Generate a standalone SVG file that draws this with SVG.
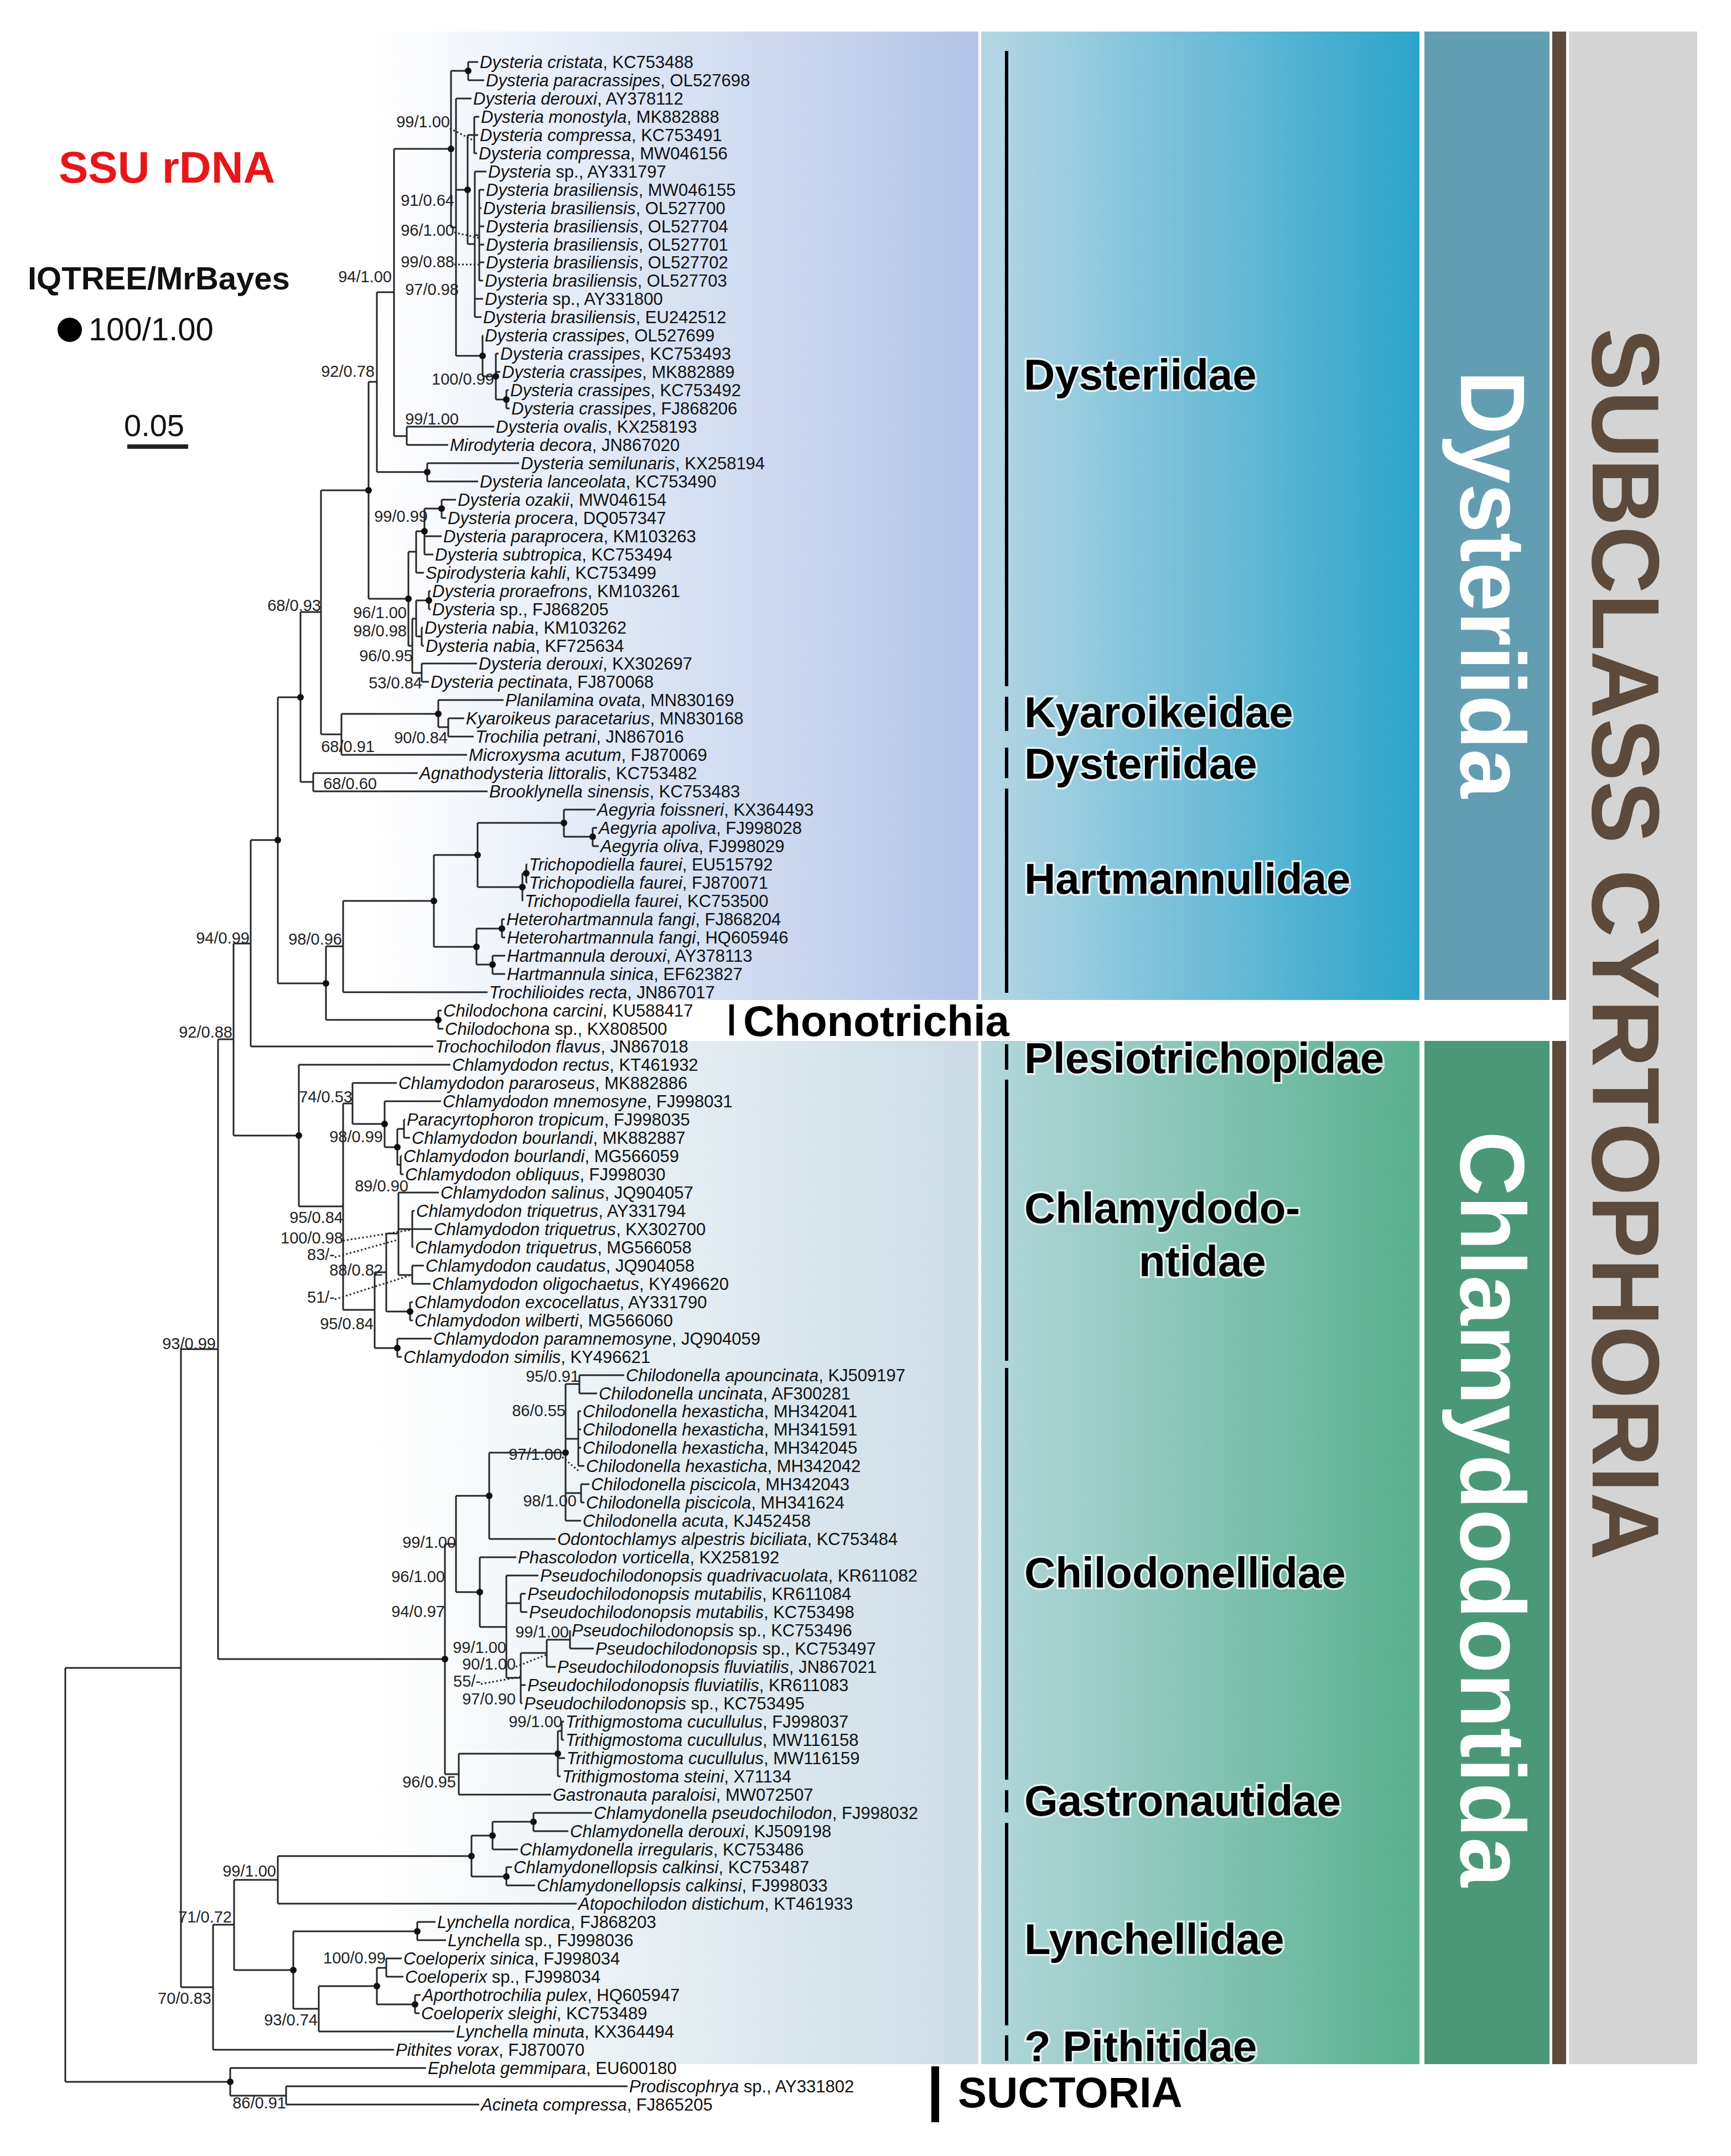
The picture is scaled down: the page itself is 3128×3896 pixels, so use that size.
<svg xmlns="http://www.w3.org/2000/svg" width="3128" height="3896" viewBox="0 0 3128 3896">
<defs>
<linearGradient id="gA" x1="0" x2="1" y1="0" y2="0"><stop offset="0" stop-color="#ffffff"/><stop offset="1" stop-color="#b2c5e7"/></linearGradient>
<linearGradient id="gB" x1="0" x2="1" y1="0" y2="0"><stop offset="0" stop-color="#ffffff"/><stop offset="1" stop-color="#cbdce6"/></linearGradient>
<linearGradient id="gC" x1="0" x2="1" y1="0" y2="0"><stop offset="0" stop-color="#b6d7e5"/><stop offset="1" stop-color="#2ba4ca"/></linearGradient>
<linearGradient id="gD" x1="0" x2="1" y1="0" y2="0"><stop offset="0" stop-color="#b4d8dc"/><stop offset="1" stop-color="#58b08e"/></linearGradient>
<style>
.t{font-family:"Liberation Sans",Arial,sans-serif;font-size:31px;fill:#111}
.i{font-style:italic}
.s{font-family:"Liberation Sans",Arial,sans-serif;font-size:29px;fill:#222;text-anchor:end}
.f{font-family:"Liberation Sans",Arial,sans-serif;font-size:78px;font-weight:bold;fill:#000;stroke:#ffffff;stroke-width:7;stroke-opacity:0.75;paint-order:stroke}
.v{font-family:"Liberation Sans",Arial,sans-serif;font-weight:bold;text-anchor:middle}
.tree path{fill:none;stroke:#262626;stroke-width:3}
.dot{fill:#111}
.bar{fill:#000}
.dl{fill:none;stroke:#333;stroke-width:2.5;stroke-dasharray:3 4}
</style>
</defs>
<g id="background">
<rect x="677" y="57" width="1091" height="1750" fill="url(#gA)"/>
<rect x="677" y="1881" width="1091" height="1849" fill="url(#gB)"/>
<rect x="1773" y="57" width="792" height="1750" fill="url(#gC)"/>
<rect x="1773" y="1881" width="792" height="1849" fill="url(#gD)"/>
<rect x="2574" y="57" width="226" height="1750" fill="#639db2"/>
<rect x="2574" y="1881" width="226" height="1849" fill="#4a9878"/>
<rect x="2805" y="57" width="25" height="1750" fill="#5c4a3c"/>
<rect x="2805" y="1881" width="25" height="1849" fill="#5c4a3c"/>
<rect x="2835" y="57" width="232" height="3673" fill="#d4d4d4"/>
</g>
<g id="legend">
<text x="106" y="330" font-family="Liberation Sans,Arial,sans-serif" font-size="80" font-weight="bold" fill="#e5171b">SSU rDNA</text>
<text x="50" y="523" font-family="Liberation Sans,Arial,sans-serif" font-size="58" font-weight="bold" fill="#111">IQTREE/MrBayes</text>
<circle cx="126" cy="596" r="22" fill="#000"/>
<text x="160" y="615" font-family="Liberation Sans,Arial,sans-serif" font-size="58" fill="#111">100/1.00</text>
<text x="224" y="788" font-family="Liberation Sans,Arial,sans-serif" font-size="56" fill="#111">0.05</text>
<rect x="230" y="803" width="110" height="8" fill="#222"/>
</g>
<g id="groups">
<rect class="bar" x="1816" y="92" width="6" height="1148"/>
<rect class="bar" x="1816" y="1259" width="6" height="62"/>
<rect class="bar" x="1816" y="1351" width="6" height="55"/>
<rect class="bar" x="1816" y="1425" width="6" height="369"/>
<rect class="bar" x="1816" y="1887" width="6" height="46"/>
<rect class="bar" x="1816" y="1951" width="6" height="508"/>
<rect class="bar" x="1816" y="2472" width="6" height="744"/>
<rect class="bar" x="1816" y="3235" width="6" height="40"/>
<rect class="bar" x="1816" y="3294" width="6" height="366"/>
<rect class="bar" x="1816" y="3678" width="6" height="46"/>
<text class="f" x="1850" y="704">Dysteriidae</text>
<text class="f" x="1851" y="1314">Kyaroikeidae</text>
<text class="f" x="1851" y="1407">Dysteriidae</text>
<text class="f" x="1851" y="1615">Hartmannulidae</text>
<text class="f" x="1851" y="1939">Plesiotrichopidae</text>
<text class="f" x="1851" y="2210">Chlamydodo-</text>
<text class="f" x="2058" y="2306">ntidae</text>
<text class="f" x="1851" y="2869">Chilodonellidae</text>
<text class="f" x="1851" y="3281">Gastronautidae</text>
<text class="f" x="1851" y="3531">Lynchellidae</text>
<text class="f" x="1851" y="3725">? Pithitidae</text>
<rect class="bar" x="1318" y="1815" width="8" height="56"/>
<text class="f" x="1343" y="1872" stroke-width="0" font-size="80">Chonotrichia</text>
<rect class="bar" x="1683" y="3734" width="14" height="101"/>
<text class="f" x="1731" y="3808" stroke-width="0">SUCTORIA</text>
<text class="v" transform="translate(2640 1056) rotate(90)" font-size="166" fill="#ffffff" textLength="773" lengthAdjust="spacingAndGlyphs">Dysteriida</text>
<text class="v" transform="translate(2640 2727) rotate(90)" font-size="166" fill="#ffffff" textLength="1366" lengthAdjust="spacingAndGlyphs">Chlamydodontida</text>
<text class="v" transform="translate(2878 1706) rotate(90)" font-size="172" fill="#5c4a3c" textLength="2226" lengthAdjust="spacingAndGlyphs">SUBCLASS CYRTOPHORIA</text>
</g>
<g id="connectors" class="tree">
<path d="M846 112V145M846 112H864M846 145H875"/>
<path d="M857 211V277M857 211H866M857 244H864M857 277H862"/>
<path d="M866 343V507M866 343H875M866 376H870M866 409H875M866 442H875M866 474H875M866 507H873"/>
<path d="M858 310V573M858 310H879M858 425H866M858 540H873M858 573H870"/>
<path d="M845 244V441M845 244H857M845 441H858"/>
<path d="M915 705V738M915 705H919M915 738H921"/>
<path d="M896 639V722M896 639H901M896 672H904M896 722H915"/>
<path d="M872 606V680M872 606H873M872 680H896"/>
<path d="M824 178V643M824 178H852M824 343H845M824 643H872"/>
<path d="M815 128V411M815 128H846M815 411H824"/>
<path d="M735 771V804M735 771H893M735 804H810"/>
<path d="M712 269V788M712 269H815M712 788H735"/>
<path d="M772 837V870M772 837H938M772 870H864"/>
<path d="M681 528V853M681 528H712M681 853H772"/>
<path d="M798 903V936M798 903H824M798 936H806"/>
<path d="M767 919V1002M767 919H798M767 969H798M767 1002H783"/>
<path d="M752 960V1035M752 960H767M752 1035H766"/>
<path d="M775 1068V1101M775 1068H778M775 1101H778"/>
<path d="M762 1134V1167M762 1134H764M762 1167H766"/>
<path d="M752 1085V1150M752 1085H775M752 1150H762"/>
<path d="M762 1199V1232M762 1199H862M762 1232H775"/>
<path d="M745 1118V1216M745 1118H752M745 1216H762"/>
<path d="M738 997V1167M738 997H752M738 1167H745"/>
<path d="M666 690V1082M666 690H681M666 1082H738"/>
<path d="M810 1298V1331M810 1298H839M810 1331H856"/>
<path d="M792 1265V1314M792 1265H910M792 1314H810"/>
<path d="M617 1290V1364M617 1290H792M617 1364H844"/>
<path d="M580 886V1327M580 886H666M580 1327H617"/>
<path d="M566 1397V1430M566 1397H755M566 1430H881"/>
<path d="M543 1106V1413M543 1106H580M543 1413H566"/>
<path d="M1071 1496V1529M1071 1496H1079M1071 1529H1082"/>
<path d="M1019 1463V1512M1019 1463H1076M1019 1512H1071"/>
<path d="M951 1562V1595M951 1562H953M951 1595H953"/>
<path d="M944 1578V1628M944 1578H951M944 1628H945"/>
<path d="M863 1487V1603M863 1487H1019M863 1603H944"/>
<path d="M907 1661V1694M907 1661H912M907 1694H913"/>
<path d="M890 1727V1760M890 1727H913M890 1760H913"/>
<path d="M861 1678V1743M861 1678H907M861 1743H890"/>
<path d="M784 1545V1711M784 1545H863M784 1711H861"/>
<path d="M620 1628V1793M620 1628H784M620 1793H881"/>
<path d="M792 1826V1859M792 1826H798M792 1859H801"/>
<path d="M589 1710V1843M589 1710H620M589 1843H792"/>
<path d="M502 1260V1777M502 1260H543M502 1777H589"/>
<path d="M453 1518V1891M453 1518H502M453 1891H783"/>
<path d="M730 2023V2056M730 2023H732M730 2056H741"/>
<path d="M724 2089V2122M724 2089H726M724 2122H729"/>
<path d="M718 2040V2105M718 2040H730M718 2105H724"/>
<path d="M695 1990V2073M695 1990H797M695 2073H718"/>
<path d="M637 1957V2031M637 1957H717M637 2031H695"/>
<path d="M745 2188V2254M745 2188H749M745 2221H781M745 2254H747"/>
<path d="M745 2287V2320M745 2287H766M745 2320H778"/>
<path d="M720 2155V2304M720 2155H793M720 2221H745M720 2304H745"/>
<path d="M741 2353V2386M741 2353H746M741 2386H746"/>
<path d="M698 2229V2370M698 2229H720M698 2370H741"/>
<path d="M718 2419V2452M718 2419H780M718 2452H726"/>
<path d="M677 2299V2436M677 2299H698M677 2436H718"/>
<path d="M620 1994V2367M620 1994H637M620 2367H677"/>
<path d="M540 1924V2180M540 1924H814M540 2180H620"/>
<path d="M422 1705V2052M422 1705H453M422 2052H540"/>
<path d="M1047 2485V2518M1047 2485H1128M1047 2518H1079"/>
<path d="M1045 2550V2649M1045 2550H1050M1045 2583H1050M1045 2616H1050M1045 2649H1056"/>
<path d="M1050 2682V2715M1050 2682H1065M1050 2715H1056"/>
<path d="M1022 2501V2748M1022 2501H1047M1022 2600H1045M1022 2698H1050M1022 2748H1050"/>
<path d="M884 2625V2781M884 2625H1022M884 2781H1004"/>
<path d="M941 2880V2913M941 2880H950M941 2913H953"/>
<path d="M1030 2946V2979M1030 2979H1073"/>
<path d="M988 2963V3012M988 2963H1030M988 3012H1004"/>
<path d="M941 2987V3078M941 2987H988M941 3045H950M941 3078H944"/>
<path d="M915 2847V3032M915 2847H973M915 2897H941M915 3032H941"/>
<path d="M867 2814V2940M867 2814H933M867 2940H915"/>
<path d="M824 2703V2877M824 2703H884M824 2877H867"/>
<path d="M1015 3111V3144M1015 3111H1019M1015 3144H1019"/>
<path d="M1008 3128V3210M1008 3128H1015M1008 3177H1021M1008 3210H1013"/>
<path d="M829 3169V3243M829 3169H1008M829 3243H996"/>
<path d="M804 2790V3206M804 2790H824M804 3206H829"/>
<path d="M394 1878V2998M394 1878H422M394 2998H804"/>
<path d="M964 3276V3309M964 3276H1070M964 3309H1027"/>
<path d="M890 3292V3342M890 3292H964M890 3342H936"/>
<path d="M915 3374V3407M915 3374H925M915 3407H967"/>
<path d="M852 3317V3391M852 3317H890M852 3391H915"/>
<path d="M502 3354V3440M502 3354H852M502 3440H1042"/>
<path d="M754 3473V3506M754 3473H787M754 3506H806"/>
<path d="M698 3539V3572M698 3539H726M698 3572H729"/>
<path d="M750 3605V3638M750 3605H760M750 3638H758"/>
<path d="M681 3556V3622M681 3556H698M681 3622H750"/>
<path d="M576 3589V3671M576 3589H681M576 3671H821"/>
<path d="M530 3490V3630M530 3490H754M530 3630H576"/>
<path d="M423 3397V3560M423 3397H502M423 3560H530"/>
<path d="M385 3478V3704M385 3478H423M385 3704H712"/>
<path d="M327 2438V3591M327 2438H394M327 3591H385"/>
<path d="M517 3770V3803M517 3770H1134M517 3803H866"/>
<path d="M416 3737V3787M416 3737H770M416 3787H517"/>
<path d="M118 3014V3762M118 3014H327M118 3762H416"/>
<path class="dl" d="M813 232L858 255M821 420L866 430M821 478L866 478M620 2242L745 2222M605 2272L720 2240M605 2348L740 2305M932 3012L988 2990M869 3043L941 3030M1016 2633L1048 2660"/>
</g>
<g id="dots">
<circle class="dot" cx="846" cy="128" r="6"/><circle class="dot" cx="815" cy="269" r="6"/><circle class="dot" cx="845" cy="343" r="6"/><circle class="dot" cx="872" cy="643" r="6"/><circle class="dot" cx="896" cy="680" r="6"/><circle class="dot" cx="915" cy="722" r="6"/><circle class="dot" cx="772" cy="853" r="6"/><circle class="dot" cx="666" cy="886" r="6"/><circle class="dot" cx="738" cy="1082" r="6"/><circle class="dot" cx="767" cy="960" r="6"/><circle class="dot" cx="798" cy="919" r="6"/><circle class="dot" cx="775" cy="1085" r="6"/><circle class="dot" cx="792" cy="1290" r="6"/><circle class="dot" cx="543" cy="1260" r="6"/><circle class="dot" cx="502" cy="1518" r="6"/><circle class="dot" cx="1019" cy="1487" r="6"/><circle class="dot" cx="1071" cy="1512" r="6"/><circle class="dot" cx="863" cy="1545" r="6"/><circle class="dot" cx="951" cy="1578" r="6"/><circle class="dot" cx="944" cy="1603" r="6"/><circle class="dot" cx="784" cy="1628" r="6"/><circle class="dot" cx="861" cy="1711" r="6"/><circle class="dot" cx="907" cy="1678" r="6"/><circle class="dot" cx="890" cy="1743" r="6"/><circle class="dot" cx="589" cy="1777" r="6"/><circle class="dot" cx="792" cy="1843" r="6"/><circle class="dot" cx="540" cy="2052" r="6"/><circle class="dot" cx="695" cy="2031" r="6"/><circle class="dot" cx="718" cy="2073" r="6"/><circle class="dot" cx="741" cy="2370" r="6"/><circle class="dot" cx="718" cy="2436" r="6"/><circle class="dot" cx="884" cy="2703" r="6"/><circle class="dot" cx="1022" cy="2625" r="6"/><circle class="dot" cx="867" cy="2877" r="6"/><circle class="dot" cx="804" cy="2998" r="6"/><circle class="dot" cx="1008" cy="3169" r="6"/><circle class="dot" cx="852" cy="3354" r="6"/><circle class="dot" cx="890" cy="3317" r="6"/><circle class="dot" cx="964" cy="3292" r="6"/><circle class="dot" cx="915" cy="3391" r="6"/><circle class="dot" cx="530" cy="3560" r="6"/><circle class="dot" cx="754" cy="3490" r="6"/><circle class="dot" cx="681" cy="3589" r="6"/><circle class="dot" cx="750" cy="3622" r="6"/><circle class="dot" cx="416" cy="3762" r="6"/>
</g>
<g id="support">
<text class="s" x="813" y="230">99/1.00</text>
<text class="s" x="821" y="372">91/0.64</text>
<text class="s" x="821" y="426">96/1.00</text>
<text class="s" x="821" y="483">99/0.88</text>
<text class="s" x="708" y="510">94/1.00</text>
<text class="s" x="829" y="533">97/0.98</text>
<text class="s" x="677" y="681">92/0.78</text>
<text class="s" x="893" y="695">100/0.99</text>
<text class="s" x="829" y="767">99/1.00</text>
<text class="s" x="773" y="943">99/0.99</text>
<text class="s" x="580" y="1104">68/0.93</text>
<text class="s" x="735" y="1117">96/1.00</text>
<text class="s" x="735" y="1150">98/0.98</text>
<text class="s" x="746" y="1195">96/0.95</text>
<text class="s" x="763" y="1244">53/0.84</text>
<text class="s" x="809" y="1343">90/0.84</text>
<text class="s" x="677" y="1359">68/0.91</text>
<text class="s" x="681" y="1426">68/0.60</text>
<text class="s" x="451" y="1705">94/0.99</text>
<text class="s" x="618" y="1707">98/0.96</text>
<text class="s" x="420" y="1875">92/0.88</text>
<text class="s" x="637" y="1992">74/0.53</text>
<text class="s" x="692" y="2064">98/0.99</text>
<text class="s" x="738" y="2153">89/0.90</text>
<text class="s" x="620" y="2210">95/0.84</text>
<text class="s" x="620" y="2247">100/0.98</text>
<text class="s" x="605" y="2277">83/-</text>
<text class="s" x="692" y="2305">88/0.82</text>
<text class="s" x="605" y="2354">51/-</text>
<text class="s" x="675" y="2402">95/0.84</text>
<text class="s" x="390" y="2438">93/0.99</text>
<text class="s" x="1047" y="2497">95/0.91</text>
<text class="s" x="1022" y="2559">86/0.55</text>
<text class="s" x="1016" y="2638">97/1.00</text>
<text class="s" x="1042" y="2722">98/1.00</text>
<text class="s" x="824" y="2797">99/1.00</text>
<text class="s" x="804" y="2859">96/1.00</text>
<text class="s" x="804" y="2922">94/0.97</text>
<text class="s" x="1028" y="2959">99/1.00</text>
<text class="s" x="915" y="2987">99/1.00</text>
<text class="s" x="932" y="3017">90/1.00</text>
<text class="s" x="869" y="3048">55/-</text>
<text class="s" x="932" y="3080">97/0.90</text>
<text class="s" x="1016" y="3121">99/1.00</text>
<text class="s" x="824" y="3230">96/0.95</text>
<text class="s" x="499" y="3391">99/1.00</text>
<text class="s" x="419" y="3474">71/0.72</text>
<text class="s" x="697" y="3548">100/0.99</text>
<text class="s" x="382" y="3621">70/0.83</text>
<text class="s" x="574" y="3660">93/0.74</text>
<text class="s" x="517" y="3810">86/0.91</text>
</g>
<g id="taxa" class="t">
<text x="867" y="123"><tspan class="i">Dysteria cristata</tspan>, KC753488</text>
<text x="878" y="156"><tspan class="i">Dysteria paracrassipes</tspan>, OL527698</text>
<text x="855" y="189"><tspan class="i">Dysteria derouxi</tspan>, AY378112</text>
<text x="869" y="222"><tspan class="i">Dysteria monostyla</tspan>, MK882888</text>
<text x="867" y="255"><tspan class="i">Dysteria compressa</tspan>, KC753491</text>
<text x="865" y="288"><tspan class="i">Dysteria compressa</tspan>, MW046156</text>
<text x="882" y="321"><tspan class="i">Dysteria</tspan> sp., AY331797</text>
<text x="878" y="354"><tspan class="i">Dysteria brasiliensis</tspan>, MW046155</text>
<text x="873" y="387"><tspan class="i">Dysteria brasiliensis</tspan>, OL527700</text>
<text x="878" y="420"><tspan class="i">Dysteria brasiliensis</tspan>, OL527704</text>
<text x="878" y="453"><tspan class="i">Dysteria brasiliensis</tspan>, OL527701</text>
<text x="878" y="485"><tspan class="i">Dysteria brasiliensis</tspan>, OL527702</text>
<text x="876" y="518"><tspan class="i">Dysteria brasiliensis</tspan>, OL527703</text>
<text x="876" y="551"><tspan class="i">Dysteria</tspan> sp., AY331800</text>
<text x="873" y="584"><tspan class="i">Dysteria brasiliensis</tspan>, EU242512</text>
<text x="876" y="617"><tspan class="i">Dysteria crassipes</tspan>, OL527699</text>
<text x="904" y="650"><tspan class="i">Dysteria crassipes</tspan>, KC753493</text>
<text x="907" y="683"><tspan class="i">Dysteria crassipes</tspan>, MK882889</text>
<text x="922" y="716"><tspan class="i">Dysteria crassipes</tspan>, KC753492</text>
<text x="924" y="749"><tspan class="i">Dysteria crassipes</tspan>, FJ868206</text>
<text x="896" y="782"><tspan class="i">Dysteria ovalis</tspan>, KX258193</text>
<text x="813" y="815"><tspan class="i">Mirodyteria decora</tspan>, JN867020</text>
<text x="941" y="848"><tspan class="i">Dysteria semilunaris</tspan>, KX258194</text>
<text x="867" y="881"><tspan class="i">Dysteria lanceolata</tspan>, KC753490</text>
<text x="827" y="914"><tspan class="i">Dysteria ozakii</tspan>, MW046154</text>
<text x="809" y="947"><tspan class="i">Dysteria procera</tspan>, DQ057347</text>
<text x="801" y="980"><tspan class="i">Dysteria paraprocera</tspan>, KM103263</text>
<text x="786" y="1013"><tspan class="i">Dysteria subtropica</tspan>, KC753494</text>
<text x="769" y="1046"><tspan class="i">Spirodysteria kahli</tspan>, KC753499</text>
<text x="781" y="1079"><tspan class="i">Dysteria proraefrons</tspan>, KM103261</text>
<text x="781" y="1112"><tspan class="i">Dysteria</tspan> sp., FJ868205</text>
<text x="767" y="1145"><tspan class="i">Dysteria nabia</tspan>, KM103262</text>
<text x="769" y="1178"><tspan class="i">Dysteria nabia</tspan>, KF725634</text>
<text x="865" y="1210"><tspan class="i">Dysteria derouxi</tspan>, KX302697</text>
<text x="778" y="1243"><tspan class="i">Dysteria pectinata</tspan>, FJ870068</text>
<text x="913" y="1276"><tspan class="i">Planilamina ovata</tspan>, MN830169</text>
<text x="842" y="1309"><tspan class="i">Kyaroikeus paracetarius</tspan>, MN830168</text>
<text x="859" y="1342"><tspan class="i">Trochilia petrani</tspan>, JN867016</text>
<text x="847" y="1375"><tspan class="i">Microxysma acutum</tspan>, FJ870069</text>
<text x="758" y="1408"><tspan class="i">Agnathodysteria littoralis</tspan>, KC753482</text>
<text x="884" y="1441"><tspan class="i">Brooklynella sinensis</tspan>, KC753483</text>
<text x="1079" y="1474"><tspan class="i">Aegyria foissneri</tspan>, KX364493</text>
<text x="1082" y="1507"><tspan class="i">Aegyria apoliva</tspan>, FJ998028</text>
<text x="1085" y="1540"><tspan class="i">Aegyria oliva</tspan>, FJ998029</text>
<text x="956" y="1573"><tspan class="i">Trichopodiella faurei</tspan>, EU515792</text>
<text x="956" y="1606"><tspan class="i">Trichopodiella faurei</tspan>, FJ870071</text>
<text x="948" y="1639"><tspan class="i">Trichopodiella faurei</tspan>, KC753500</text>
<text x="915" y="1672"><tspan class="i">Heterohartmannula fangi</tspan>, FJ868204</text>
<text x="916" y="1705"><tspan class="i">Heterohartmannula fangi</tspan>, HQ605946</text>
<text x="916" y="1738"><tspan class="i">Hartmannula derouxi</tspan>, AY378113</text>
<text x="916" y="1771"><tspan class="i">Hartmannula sinica</tspan>, EF623827</text>
<text x="884" y="1804"><tspan class="i">Trochilioides recta</tspan>, JN867017</text>
<text x="801" y="1837"><tspan class="i">Chilodochona carcini</tspan>, KU588417</text>
<text x="804" y="1870"><tspan class="i">Chilodochona</tspan> sp., KX808500</text>
<text x="786" y="1902"><tspan class="i">Trochochilodon flavus</tspan>, JN867018</text>
<text x="817" y="1935"><tspan class="i">Chlamydodon rectus</tspan>, KT461932</text>
<text x="720" y="1968"><tspan class="i">Chlamydodon pararoseus</tspan>, MK882886</text>
<text x="800" y="2001"><tspan class="i">Chlamydodon mnemosyne</tspan>, FJ998031</text>
<text x="735" y="2034"><tspan class="i">Paracyrtophoron tropicum</tspan>, FJ998035</text>
<text x="744" y="2067"><tspan class="i">Chlamydodon bourlandi</tspan>, MK882887</text>
<text x="729" y="2100"><tspan class="i">Chlamydodon bourlandi</tspan>, MG566059</text>
<text x="732" y="2133"><tspan class="i">Chlamydodon obliquus</tspan>, FJ998030</text>
<text x="796" y="2166"><tspan class="i">Chlamydodon salinus</tspan>, JQ904057</text>
<text x="752" y="2199"><tspan class="i">Chlamydodon triquetrus</tspan>, AY331794</text>
<text x="784" y="2232"><tspan class="i">Chlamydodon triquetrus</tspan>, KX302700</text>
<text x="750" y="2265"><tspan class="i">Chlamydodon triquetrus</tspan>, MG566058</text>
<text x="769" y="2298"><tspan class="i">Chlamydodon caudatus</tspan>, JQ904058</text>
<text x="781" y="2331"><tspan class="i">Chlamydodon oligochaetus</tspan>, KY496620</text>
<text x="749" y="2364"><tspan class="i">Chlamydodon excocellatus</tspan>, AY331790</text>
<text x="749" y="2397"><tspan class="i">Chlamydodon wilberti</tspan>, MG566060</text>
<text x="783" y="2430"><tspan class="i">Chlamydodon paramnemosyne</tspan>, JQ904059</text>
<text x="729" y="2463"><tspan class="i">Chlamydodon similis</tspan>, KY496621</text>
<text x="1131" y="2496"><tspan class="i">Chilodonella apouncinata</tspan>, KJ509197</text>
<text x="1082" y="2529"><tspan class="i">Chilodonella uncinata</tspan>, AF300281</text>
<text x="1053" y="2561"><tspan class="i">Chilodonella hexasticha</tspan>, MH342041</text>
<text x="1053" y="2594"><tspan class="i">Chilodonella hexasticha</tspan>, MH341591</text>
<text x="1053" y="2627"><tspan class="i">Chilodonella hexasticha</tspan>, MH342045</text>
<text x="1059" y="2660"><tspan class="i">Chilodonella hexasticha</tspan>, MH342042</text>
<text x="1068" y="2693"><tspan class="i">Chilodonella piscicola</tspan>, MH342043</text>
<text x="1059" y="2726"><tspan class="i">Chilodonella piscicola</tspan>, MH341624</text>
<text x="1053" y="2759"><tspan class="i">Chilodonella acuta</tspan>, KJ452458</text>
<text x="1007" y="2792"><tspan class="i">Odontochlamys alpestris biciliata</tspan>, KC753484</text>
<text x="936" y="2825"><tspan class="i">Phascolodon vorticella</tspan>, KX258192</text>
<text x="976" y="2858"><tspan class="i">Pseudochilodonopsis quadrivacuolata</tspan>, KR611082</text>
<text x="953" y="2891"><tspan class="i">Pseudochilodonopsis mutabilis</tspan>, KR611084</text>
<text x="956" y="2924"><tspan class="i">Pseudochilodonopsis mutabilis</tspan>, KC753498</text>
<text x="1033" y="2957"><tspan class="i">Pseudochilodonopsis</tspan> sp., KC753496</text>
<text x="1076" y="2990"><tspan class="i">Pseudochilodonopsis</tspan> sp., KC753497</text>
<text x="1007" y="3023"><tspan class="i">Pseudochilodonopsis fluviatilis</tspan>, JN867021</text>
<text x="953" y="3056"><tspan class="i">Pseudochilodonopsis fluviatilis</tspan>, KR611083</text>
<text x="947" y="3089"><tspan class="i">Pseudochilodonopsis</tspan> sp., KC753495</text>
<text x="1022" y="3122"><tspan class="i">Trithigmostoma cucullulus</tspan>, FJ998037</text>
<text x="1022" y="3155"><tspan class="i">Trithigmostoma cucullulus</tspan>, MW116158</text>
<text x="1024" y="3188"><tspan class="i">Trithigmostoma cucullulus</tspan>, MW116159</text>
<text x="1016" y="3221"><tspan class="i">Trithigmostoma steini</tspan>, X71134</text>
<text x="999" y="3254"><tspan class="i">Gastronauta paraloisi</tspan>, MW072507</text>
<text x="1073" y="3287"><tspan class="i">Chlamydonella pseudochilodon</tspan>, FJ998032</text>
<text x="1030" y="3320"><tspan class="i">Chlamydonella derouxi</tspan>, KJ509198</text>
<text x="939" y="3353"><tspan class="i">Chlamydonella irregularis</tspan>, KC753486</text>
<text x="928" y="3385"><tspan class="i">Chlamydonellopsis calkinsi</tspan>, KC753487</text>
<text x="970" y="3418"><tspan class="i">Chlamydonellopsis calkinsi</tspan>, FJ998033</text>
<text x="1045" y="3451"><tspan class="i">Atopochilodon distichum</tspan>, KT461933</text>
<text x="790" y="3484"><tspan class="i">Lynchella nordica</tspan>, FJ868203</text>
<text x="809" y="3517"><tspan class="i">Lynchella</tspan> sp., FJ998036</text>
<text x="729" y="3550"><tspan class="i">Coeloperix sinica</tspan>, FJ998034</text>
<text x="732" y="3583"><tspan class="i">Coeloperix</tspan> sp., FJ998034</text>
<text x="763" y="3616"><tspan class="i">Aporthotrochilia pulex</tspan>, HQ605947</text>
<text x="761" y="3649"><tspan class="i">Coeloperix sleighi</tspan>, KC753489</text>
<text x="824" y="3682"><tspan class="i">Lynchella minuta</tspan>, KX364494</text>
<text x="715" y="3715"><tspan class="i">Pithites vorax</tspan>, FJ870070</text>
<text x="773" y="3748"><tspan class="i">Ephelota gemmipara</tspan>, EU600180</text>
<text x="1137" y="3781"><tspan class="i">Prodiscophrya</tspan> sp., AY331802</text>
<text x="869" y="3814"><tspan class="i">Acineta compressa</tspan>, FJ865205</text>
</g>
</svg>
